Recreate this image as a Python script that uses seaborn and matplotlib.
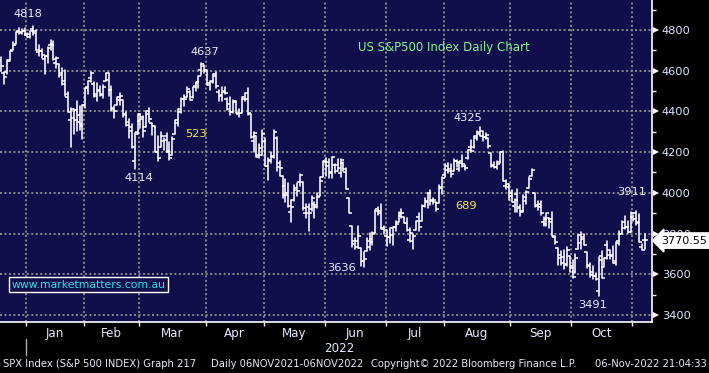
import numpy as np
import pandas as pd
import matplotlib
matplotlib.use("Agg")
import matplotlib.pyplot as plt
import seaborn as sns
from matplotlib.transforms import blended_transform_factory

# ---------------- data (SPX daily OHLC, 17 Dec 2021 - 4 Nov 2022) ----------------
holidays = ["2021-12-24", "2022-01-17", "2022-02-21", "2022-04-15",
            "2022-05-30", "2022-06-20", "2022-07-04", "2022-09-05"]

opens = [4652, 4588, 4594, 4650, 4703, 4733, 4795, 4788, 4795, 4776,
         4779, 4804, 4787, 4693, 4698, 4655, 4670, 4728, 4733, 4637, 4632, 4588, 4548, 4471, 4357, 4367, 4408, 4380, 4337, 4432,
         4519, 4566, 4535, 4483, 4505, 4480, 4548, 4553, 4507, 4413, 4430, 4456, 4456, 4385, 4332, 4325, 4155, 4299, 4355,
         4364, 4322, 4401, 4342, 4328, 4202, 4224, 4253, 4280, 4202, 4188, 4288, 4345, 4398, 4463, 4469, 4493, 4469, 4523, 4541, 4603, 4624, 4600,
         4541, 4547, 4573, 4495, 4475, 4494, 4462, 4438, 4396, 4449, 4385, 4391, 4473, 4489, 4385, 4255, 4279, 4187, 4222, 4253,
         4130, 4160, 4181, 4271, 4129, 4081, 4035, 3991, 3904, 3963, 4013, 4053, 4052, 3899, 3928, 3920, 3943, 3929, 3985, 4078, 4151,
         4150, 4096, 4137, 4135, 4097, 4148, 4102, 3974, 3838, 3763, 3764, 3729, 3666, 3715, 3733, 3775, 3805, 3920, 3913, 3826, 3786,
         3781, 3792, 3831, 3859, 3888, 3880, 3851, 3770, 3764, 3818, 3883, 3860, 3935, 3955, 3999, 3965, 3954, 3951, 4027, 4088,
         4113, 4105, 4108, 4155, 4115, 4156, 4134, 4170, 4227, 4225, 4269, 4290, 4281, 4273, 4267, 4195, 4134, 4127, 4153, 4199, 4034, 4041, 4000,
         3937, 3995, 3930, 3909, 3960, 4022, 4083, 4000, 3940, 3932, 3855, 3849, 3876, 3871, 3782, 3727, 3682, 3686, 3651, 3688, 3633,
         3609, 3726, 3753, 3771, 3707, 3644, 3595, 3591, 3520, 3690, 3638, 3746, 3697, 3689, 3657, 3762, 3799, 3825, 3834, 3808, 3882,
         3901, 3853, 3733, 3767]
highs = [4666, 4591, 4651, 4698, 4740, 4791, 4808, 4804, 4808, 4787,
         4797, 4819, 4798, 4726, 4708, 4674, 4714, 4749, 4745, 4666, 4632, 4612, 4603, 4494, 4417, 4411, 4453, 4428, 4432, 4517,
         4547, 4595, 4542, 4540, 4527, 4531, 4590, 4589, 4527, 4427, 4472, 4490, 4457, 4395, 4362, 4338, 4294, 4385, 4389,
         4375, 4401, 4417, 4343, 4329, 4277, 4299, 4268, 4292, 4248, 4272, 4358, 4412, 4465, 4481, 4522, 4502, 4521, 4546, 4576, 4637, 4627, 4603,
         4549, 4583, 4594, 4503, 4521, 4521, 4464, 4472, 4454, 4453, 4411, 4471, 4488, 4513, 4386, 4300, 4279, 4241, 4308, 4270,
         4169, 4200, 4307, 4276, 4158, 4081, 4069, 4049, 3965, 4039, 4046, 4090, 4052, 3946, 3944, 3982, 3955, 3999, 4076, 4158, 4169,
         4166, 4177, 4143, 4168, 4164, 4150, 4120, 3974, 3838, 3779, 3838, 3729, 3708, 3779, 3801, 3808, 3914, 3928, 3945, 3836, 3818,
         3829, 3832, 3864, 3906, 3919, 3880, 3874, 3829, 3796, 3864, 3903, 3939, 3975, 3999, 4013, 3975, 3954, 4038, 4078, 4141,
         4145, 4140, 4167, 4162, 4151, 4186, 4138, 4211, 4258, 4280, 4302, 4325, 4303, 4292, 4267, 4195, 4149, 4156, 4200, 4203, 4062, 4044, 4015,
         3971, 4019, 3942, 3987, 4011, 4077, 4119, 4000, 3961, 3959, 3880, 3900, 3876, 3907, 3790, 3727, 3716, 3717, 3736, 3688, 3671,
         3699, 3791, 3807, 3798, 3711, 3653, 3640, 3608, 3685, 3712, 3679, 3763, 3718, 3737, 3757, 3810, 3862, 3886, 3860, 3905, 3893,
         3912, 3895, 3751, 3796]
lows = [4600, 4532, 4583, 4645, 4703, 4733, 4781, 4778, 4775, 4766,
        4759, 4775, 4699, 4671, 4663, 4582, 4638, 4703, 4651, 4614, 4569, 4531, 4475, 4396, 4223, 4288, 4305, 4309, 4264, 4415,
        4483, 4544, 4471, 4451, 4476, 4465, 4548, 4477, 4402, 4365, 4430, 4429, 4374, 4327, 4268, 4222, 4115, 4287, 4318,
        4273, 4322, 4346, 4285, 4199, 4157, 4224, 4209, 4200, 4161, 4187, 4288, 4330, 4392, 4425, 4469, 4456, 4465, 4501, 4517, 4581, 4589, 4530,
        4507, 4540, 4516, 4450, 4450, 4485, 4408, 4382, 4393, 4391, 4371, 4390, 4450, 4384, 4268, 4201, 4175, 4170, 4188, 4132,
        4063, 4144, 4171, 4107, 4081, 3975, 3957, 3929, 3859, 3959, 3984, 4033, 3914, 3877, 3810, 3909, 3876, 3925, 3985, 4078, 4084,
        4074, 4074, 4097, 4109, 4080, 4108, 4017, 3900, 3734, 3722, 3731, 3640, 3637, 3715, 3717, 3743, 3805, 3889, 3820, 3799, 3738,
        3752, 3742, 3810, 3859, 3875, 3850, 3814, 3759, 3722, 3818, 3813, 3860, 3929, 3927, 3939, 3944, 3911, 3951, 3992, 4079,
        4097, 4080, 4108, 4128, 4107, 4129, 4112, 4164, 4201, 4219, 4257, 4277, 4253, 4262, 4218, 4129, 4124, 4119, 4148, 4057, 4017, 3965, 3954,
        3904, 3907, 3886, 3907, 3944, 4022, 4083, 3929, 3917, 3889, 3837, 3838, 3827, 3789, 3750, 3647, 3644, 3624, 3640, 3611, 3584,
        3604, 3726, 3723, 3744, 3629, 3588, 3579, 3573, 3492, 3584, 3638, 3677, 3674, 3657, 3647, 3743, 3799, 3824, 3803, 3808, 3863,
        3843, 3758, 3718, 3722]
closes = [4621, 4568, 4649, 4697, 4726, 4791, 4786, 4793, 4779, 4766,
          4797, 4794, 4701, 4696, 4677, 4670, 4713, 4726, 4659, 4663, 4577, 4533, 4483, 4398, 4410, 4356, 4350, 4327, 4432, 4516,
          4547, 4589, 4477, 4501, 4484, 4522, 4587, 4504, 4419, 4402, 4471, 4475, 4380, 4349, 4305, 4226, 4289, 4385, 4374,
          4306, 4387, 4363, 4329, 4201, 4171, 4278, 4260, 4204, 4173, 4262, 4358, 4412, 4463, 4461, 4512, 4456, 4520, 4543, 4576, 4632, 4602, 4530,
          4546, 4583, 4525, 4481, 4500, 4488, 4413, 4397, 4447, 4393, 4392, 4462, 4459, 4394, 4272, 4296, 4175, 4184, 4288, 4132,
          4155, 4175, 4300, 4147, 4123, 3991, 4001, 3935, 3930, 4024, 4008, 4089, 3924, 3901, 3901, 3974, 3941, 3979, 4058, 4158, 4132,
          4101, 4177, 4109, 4121, 4161, 4116, 4018, 3901, 3750, 3735, 3790, 3667, 3675, 3765, 3760, 3796, 3912, 3900, 3822, 3819, 3785,
          3825, 3831, 3845, 3903, 3899, 3854, 3819, 3802, 3790, 3863, 3831, 3937, 3960, 3999, 3962, 3967, 3921, 4024, 4072, 4130,
          4119, 4091, 4155, 4152, 4145, 4140, 4122, 4210, 4207, 4280, 4297, 4305, 4274, 4284, 4228, 4138, 4129, 4141, 4199, 4058, 4031, 3986, 3955,
          3967, 3924, 3908, 3980, 4006, 4067, 4110, 3933, 3946, 3901, 3873, 3900, 3856, 3790, 3758, 3693, 3655, 3647, 3719, 3640, 3586,
          3678, 3791, 3783, 3745, 3640, 3612, 3589, 3577, 3670, 3583, 3678, 3720, 3695, 3666, 3753, 3797, 3859, 3831, 3807, 3901, 3872,
          3856, 3760, 3720, 3770.55]

y_ticks = [3400, 3600, 3800, 4000, 4200, 4400, 4600, 4800]
y_minor = [3500, 3700, 3900, 4100, 4300, 4500, 4700, 4900]
month_names = ["Jan", "Feb", "Mar", "Apr", "May", "Jun", "Jul", "Aug", "Sep", "Oct"]

# value labels: (text, x px, y px)
labels_white = [("4818", 28, 14), ("4637", 205, 52), ("4114", 139, 178),
                ("4325", 468, 118), ("3636", 342, 268), ("3491", 593, 305),
                ("3911", 632, 192)]
labels_yellow = [("523", 196, 134), ("689", 466, 206)]

# ---------------- figure ----------------
W, H = 709, 373
AX_R, AX_B = 652, 322
BG = "#100e4b"
sns.set_style("dark", rc={"axes.facecolor": BG, "figure.facecolor": "black"})
plt.rcParams["font.family"] = ["DejaVu Sans"]

fig = plt.figure(figsize=(W / 100, H / 100), dpi=100)
ax = fig.add_axes([0, 1 - AX_B / H, AX_R / W, AX_B / H])
ax.set_facecolor(BG)

dates = pd.bdate_range("2021-12-17", "2022-11-04").drop(pd.to_datetime(holidays))
n = len(dates)
idx = np.arange(n)

df = pd.DataFrame({"day": np.repeat(idx, 2),
                   "price": np.column_stack([lows, highs]).ravel()})
sns.lineplot(data=df, x="day", y="price", units="day", estimator=None,
             color="white", lw=1.15, ax=ax, legend=False)
ax.plot(idx, opens, ls="none", marker=0, ms=1.9, mew=1.1, color="white")
ax.plot(idx, closes, ls="none", marker=1, ms=1.9, mew=1.1, color="white")

# scales
ax.set_xlim(-0.45, 224.4)
ax.set_ylim(3365.5, 4947)
ax.set_xlabel("")
ax.set_ylabel("")

# month boundaries
firsts = [i for i in range(1, n) if dates[i].month != dates[i - 1].month]
bounds = [f - 1.5 for f in firsts]
mids = [(bounds[k] + bounds[k + 1]) / 2 for k in range(len(month_names))]
ax.set_xticks(bounds)
ax.set_xticklabels([])
ax.set_xticks(mids, minor=True)
ax.set_xticklabels(month_names, minor=True)
ax.tick_params(axis="x", which="major", length=3, width=1, color="white",
               direction="out", bottom=True)
ax.tick_params(axis="x", which="minor", length=0, pad=3.5, labelsize=8.6,
               labelcolor="#e4eaff")

ax.yaxis.tick_right()
ax.set_yticks(y_ticks)
ax.set_yticklabels([str(v) for v in y_ticks])
ax.set_yticks(y_minor, minor=True)
ax.tick_params(axis="y", which="major", length=0, pad=7, labelsize=8.2,
               labelcolor="#dce6ff", right=True, left=False)
ax.tick_params(axis="y", which="minor", length=3, width=1, color="white",
               direction="out", right=True, left=False)

ax.grid(True, which="major", color="#8a8a8a", lw=1.4, ls=(0, (1.0, 1.3)))
for s in ["left", "top"]:
    ax.spines[s].set_visible(False)
for s in ["right", "bottom"]:
    ax.spines[s].set_visible(True)
    ax.spines[s].set_color("white")
    ax.spines[s].set_linewidth(1.2)

trans = blended_transform_factory(ax.transAxes, ax.transData)
ax.plot([1.006] * len(y_ticks), y_ticks, ls="none", marker=">", ms=4.5,
        color="white", mew=0, transform=trans, clip_on=False)

# last price box (covers the 3800 label, as in the original)
ax.text(1.0135, closes[-1] - 5, f"{closes[-1]:.2f}", transform=trans,
        ha="left", va="center", fontsize=8.0, color="black", zorder=10,
        clip_on=False,
        bbox=dict(boxstyle="larrow,pad=0.24", fc="white", ec="white"))

# annotations
for t, x, y in labels_white:
    ax.text(x / AX_R, 1 - y / AX_B, t, transform=ax.transAxes, ha="center",
            va="center", fontsize=8.2, color="#e8eeff")
for t, x, y in labels_yellow:
    ax.text(x / AX_R, 1 - y / AX_B, t, transform=ax.transAxes, ha="center",
            va="center", fontsize=8.2, color="#f5f03a")

ax.text(443.5 / AX_R, 1 - 47 / AX_B, "US S&P500 Index Daily Chart",
        transform=ax.transAxes, ha="center", va="center", fontsize=8.5,
        color="#86f58a")
ax.text(88.5 / AX_R, 1 - 284.5 / AX_B, "www.marketmatters.com.au",
        transform=ax.transAxes, ha="center", va="center", fontsize=7.8,
        color="#2be0ee",
        bbox=dict(boxstyle="square,pad=0.25", fc=BG, ec="white", lw=1))

# footer
fig.text(339 / W, 1 - 348 / H, "2022", ha="center", va="center",
         fontsize=8.6, color="#e4eaff")
fig.add_artist(plt.Line2D([26 / W, 26 / W], [1 - 339 / H, 1 - 355 / H],
                          color="#b0b0b0", lw=1))
foot_y = 1 - 364 / H
FS = 7.2
fig.text(3 / W, foot_y, "SPX Index (S&P 500 INDEX) Graph 217", ha="left",
         va="center", fontsize=FS, color="#e6e8f5")
fig.text(211 / W, foot_y, "Daily 06NOV2021-06NOV2022", ha="left",
         va="center", fontsize=FS, color="#e6e8f5")
fig.text(371 / W, foot_y, "Copyright\u00a9 2022 Bloomberg Finance L.P.",
         ha="left", va="center", fontsize=FS, color="#e6e8f5")
fig.text(707 / W, foot_y, "06-Nov-2022 21:04:33", ha="right",
         va="center", fontsize=FS, color="#e6e8f5")

fig.savefig("out.png", dpi=100, facecolor="black")
